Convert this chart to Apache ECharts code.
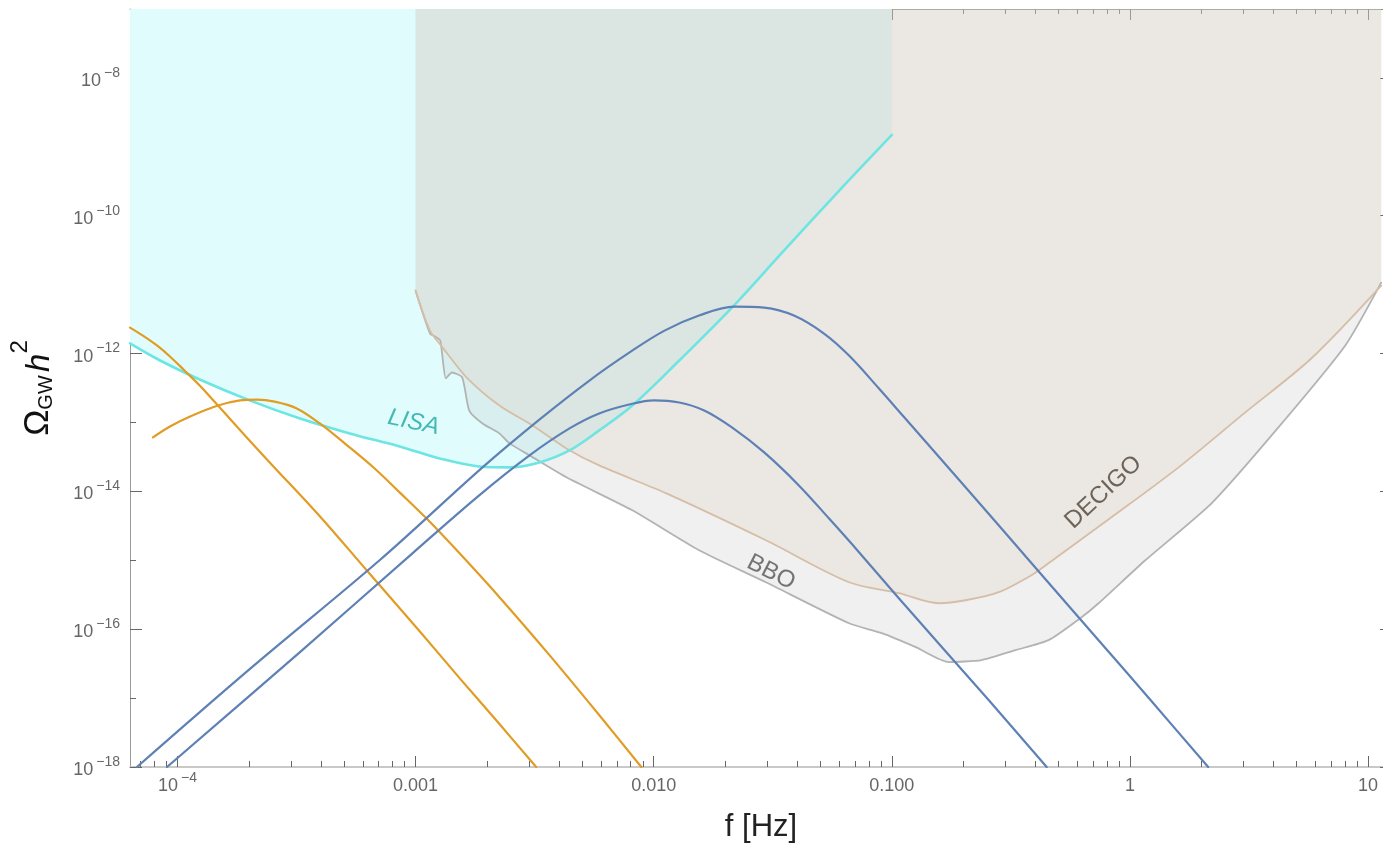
<!DOCTYPE html>
<html>
<head>
<meta charset="utf-8">
<title>Gravitational-wave spectra and detector sensitivities</title>
<script src="https://cdn.jsdelivr.net/npm/echarts@6/dist/echarts.min.js"></script>
<style>
  html, body { margin: 0; padding: 0; background: #ffffff; }
  #chart { width: 1383px; height: 849px; }
</style>
</head>
<body>
<div id="chart"></div>
<script>
// ---- Axis ranges and tick labels ----
const X_RANGE = [6.32e-5, 12.6];
const Y_RANGE = [1e-18, 1e-7];
const xMajorTicks = [1e-4, 1e-3, 1e-2, 1e-1, 1, 10];
const xTickLabels = ['{b|10}{s|−4}', '0.001', '0.010', '0.100', '1', '10'];
const yMajorTicks = [1e-18, 1e-16, 1e-14, 1e-12, 1e-10, 1e-8];
const yTickLabels = ['{b|10}{s|−18}', '{b|10}{s|−16}', '{b|10}{s|−14}', '{b|10}{s|−12}', '{b|10}{s|−10}', '{b|10}{s|−8}'];
const yMinorTicks = [1e-17, 1e-15, 1e-13, 1e-11, 1e-9, 1e-7];

// ---- LISA sensitivity curve ----
const lisaFreq  = [6.32e-5, 8.45e-5, 1.24e-4, 2.01e-4, 3.27e-4, 5.29e-4, 8.57e-4, 1.26e-3, 1.85e-3, 2.48e-3, 3.31e-3, 4.43e-3, 5.90e-3, 8.13e-3, 1.28e-2, 2.13e-2, 3.46e-2, 6.0e-2, 0.1];
const lisaOmega = [1.40e-12, 7.92e-13, 4.20e-13, 2.09e-13, 1.14e-13, 6.93e-14, 4.49e-14, 3.01e-14, 2.30e-14, 2.23e-14, 2.63e-14, 3.93e-14, 7.66e-14, 1.76e-13, 7.92e-13, 4.64e-12, 2.91e-11, 2.30e-10, 1.49e-9];

// ---- DECIGO sensitivity curve ----
const decigoFreq  = [1e-3, 1.15e-3, 1.30e-3, 1.64e-3, 2.25e-3, 3.10e-3, 4.30e-3, 5.90e-3, 1.13e-2, 2.96e-2, 6.61e-2, 0.107, 0.157, 0.204, 0.281, 0.386, 0.455, 0.836, 1.60, 3.05, 5.77, 11.35];
const decigoOmega = [8.18e-12, 2.15e-12, 1.22e-12, 4.49e-13, 1.76e-13, 9.05e-14, 4.20e-14, 2.38e-14, 9.35e-15, 1.95e-15, 4.80e-16, 3.33e-16, 2.38e-16, 2.63e-16, 3.44e-16, 6.07e-16, 9.06e-16, 4.20e-15, 2.23e-14, 1.4e-13, 8.47e-13, 9.68e-12];

// ---- BBO sensitivity curve ----
const bboFreq  = [1e-3, 1.15e-3, 1.21e-3, 1.27e-3, 1.34e-3, 1.42e-3, 1.57e-3, 1.68e-3, 1.91e-3, 2.25e-3, 2.48e-3, 3.01e-3, 4.30e-3, 8.13e-3, 1.55e-2, 2.96e-2, 6.61e-2, 9.08e-2, 0.126, 0.173, 0.238, 0.331, 0.455, 0.626, 0.738, 1.16, 2.20, 4.20, 8.02, 11.35];
const bboOmega = [8.18e-12, 1.95e-12, 1.76e-12, 1.54e-12, 4.35e-13, 5.31e-13, 4.49e-13, 1.49e-13, 9.68e-14, 6.93e-14, 4.97e-14, 3.33e-14, 1.60e-14, 5.31e-15, 1.40e-15, 4.80e-16, 1.22e-16, 8.75e-17, 5.48e-17, 3.33e-17, 3.56e-17, 4.97e-17, 6.93e-17, 1.49e-16, 2.38e-16, 1.0e-15, 6.70e-15, 8.47e-14, 1.31e-12, 1.07e-11];

// ---- Low-frequency spectra (orange) ----
const orangeAFreq  = [6.32e-5, 7.16e-5, 8.20e-5, 9.30e-5, 1.07e-4, 1.24e-4, 1.48e-4, 1.92e-4, 2.44e-4, 3.96e-4, 6.23e-4, 1.04e-3, 1.53e-3, 2.25e-3, 3.21e-3];
const orangeAOmega = [2.38e-12, 1.82e-12, 1.31e-12, 9.06e-13, 5.68e-13, 3.44e-13, 1.76e-13, 6.49e-14, 2.63e-14, 4.35e-15, 7.16e-16, 9.35e-17, 1.95e-17, 4.20e-18, 1e-18];
const orangeBFreq  = [7.89e-5, 9.30e-5, 1.13e-4, 1.48e-4, 1.83e-4, 2.15e-4, 2.56e-4, 3.17e-4, 3.96e-4, 5.04e-4, 6.73e-4, 8.57e-4, 1.11e-3, 1.53e-3, 2.25e-3, 3.65e-3, 5.90e-3, 8.87e-3];
const orangeBOmega = [6.07e-14, 8.75e-14, 1.22e-13, 1.76e-13, 2.09e-13, 2.15e-13, 2.01e-13, 1.60e-13, 9.68e-14, 4.97e-14, 2.15e-14, 9.68e-15, 4.06e-15, 1.26e-15, 2.91e-16, 4.20e-17, 5.68e-18, 1e-18];

// ---- Peaked spectra (blue) ----
const blueCFreq  = [6.76e-5, 2.01e-4, 7.06e-4, 1.91e-3, 3.31e-3, 5.37e-3, 7.89e-3, 1.11e-2, 1.55e-2, 2.18e-2, 2.91e-2, 3.88e-2, 5.19e-2, 6.61e-2, 8.83e-2, 0.112, 0.191, 0.413, 0.738, 1.23, 2.13];
const blueCOmega = [1e-18, 2.63e-17, 1e-15, 2.23e-14, 1.10e-13, 4.06e-13, 1.03e-12, 2.15e-12, 3.56e-12, 4.80e-12, 4.64e-12, 3.56e-12, 1.95e-12, 9.35e-13, 3.11e-13, 1.22e-13, 1.49e-14, 6.93e-16, 6.93e-17, 9.06e-18, 1e-18];
const blueDFreq  = [9.04e-5, 3.27e-4, 9.70e-4, 1.85e-3, 3.01e-3, 4.43e-3, 5.90e-3, 7.89e-3, 1.00e-2, 1.28e-2, 1.63e-2, 2.13e-2, 2.91e-2, 4.07e-2, 5.44e-2, 7.28e-2, 0.107, 0.255, 0.447];
const blueDOmega = [1e-18, 4.65e-17, 1.26e-15, 8.75e-15, 3.33e-14, 8.19e-14, 1.35e-13, 1.82e-13, 2.09e-13, 1.95e-13, 1.49e-13, 8.47e-14, 3.67e-14, 1.22e-14, 4.06e-15, 1.31e-15, 2.81e-16, 9.35e-18, 1e-18];

// ---- Curve labels: text, anchor frequency, anchor value ----
const labelText  = ['LISA', 'BBO', 'DECIGO'];
const labelFreq  = [9.8e-4, 3.11e-2, 0.774];
const labelOmega = [1e-13, 6.7e-16, 9.7e-15];

const zip = (xs, ys) => xs.map((x, i) => [x, ys[i]]);

// Minor x ticks at 2..9 x 10^n inside the plotted range
const xMinorTicks = [];
for (let n = -5; n <= 1; n++) {
  for (let k = 2; k <= 9; k++) {
    const v = k * Math.pow(10, n);
    if (v > X_RANGE[0] && v < X_RANGE[1]) xMinorTicks.push(v);
  }
}

const sameTick = (a, b) => Math.abs(Math.log10(a) - Math.log10(b)) < 1e-6;
const tickFont = 'Liberation Sans, Arial, sans-serif';
const labelRich = {
  b: { fontSize: 18, color: '#666666', fontFamily: tickFont, lineHeight: 24, verticalAlign: 'bottom' },
  s: { fontSize: 14, color: '#666666', fontFamily: tickFont, lineHeight: 14, verticalAlign: 'top', padding: [0, 0, 0, 3] }
};

function frameAxis(kind, position, ticks, len, lineStyle, labels) {
  const range = kind === 'x' ? X_RANGE : Y_RANGE;
  const axis = {
    type: 'log',
    logBase: 10,
    gridIndex: 0,
    position: position,
    min: range[0],
    max: range[1],
    axisLine: { show: !!lineStyle, lineStyle: lineStyle || {} },
    axisTick: { show: true, inside: true, length: len, customValues: ticks,
                lineStyle: { color: '#666', width: 1 } },
    axisLabel: { show: false },
    splitLine: { show: false },
    minorTick: { show: false },
    minorSplitLine: { show: false }
  };
  if (labels) {
    const tickList = labels.ticks;
    axis.axisLabel = {
      show: true,
      customValues: tickList,
      margin: kind === 'x' ? 4 : 10,
      rich: labelRich,
      formatter: (v) => {
        const i = tickList.findIndex(t => sameTick(t, v));
        const txt = i >= 0 ? labels.text[i] : '';
        return txt.indexOf('{') === 0 ? txt : '{b|' + txt + '}';
      }
    };
  }
  return axis;
}

const xAxes = [
  frameAxis('x', 'bottom', xMajorTicks, 11, { color: '#c9c9c9', width: 2 }, { ticks: xMajorTicks, text: xTickLabels }),
  frameAxis('x', 'bottom', xMinorTicks, 6, null, null),
  frameAxis('x', 'top', xMajorTicks, 11, { color: '#8a8a8a', width: 1 }, null),
  frameAxis('x', 'top', xMinorTicks, 5, null, null)
];
xAxes[0].name = 'f [Hz]';
xAxes[0].nameLocation = 'middle';
xAxes[0].nameGap = 45;
xAxes[0].nameTextStyle = { fontSize: 31, color: '#222', fontFamily: tickFont };

const yAxes = [
  frameAxis('y', 'left', yMajorTicks, 12, { color: '#9a9a9a', width: 1 }, { ticks: yMajorTicks, text: yTickLabels }),
  frameAxis('y', 'left', yMinorTicks, 6, null, null),
  frameAxis('y', 'right', yMajorTicks, 12, { color: '#9a9a9a', width: 1 }, null),
  frameAxis('y', 'right', yMinorTicks, 6, null, null)
];
yAxes[0].name = '{o|Ω}{g|GW} {h|h}{p|2}';
yAxes[0].nameLocation = 'middle';
yAxes[0].nameRotate = 90;
yAxes[0].nameGap = 74;
yAxes[0].nameTextStyle = {
  fontFamily: tickFont,
  color: '#111',
  rich: {
    o: { fontSize: 35, lineHeight: 48, verticalAlign: 'bottom', color: '#111', fontFamily: tickFont },
    g: { fontSize: 20, lineHeight: 38, verticalAlign: 'bottom', color: '#111', fontFamily: tickFont },
    h: { fontSize: 33, lineHeight: 48, verticalAlign: 'bottom', fontStyle: 'italic', color: '#111', fontFamily: tickFont },
    p: { fontSize: 24, lineHeight: 20, verticalAlign: 'top', color: '#111', fontFamily: tickFont }
  }
};

// Shaded regions above each sensitivity curve
function regionSeries(name, freq, omega, fill, smooth, z) {
  return {
    name: name, type: 'line', xAxisIndex: 0, yAxisIndex: 0,
    data: zip(freq, omega), showSymbol: false, silent: true, smooth: smooth,
    lineStyle: { width: 0, opacity: 0 },
    areaStyle: { origin: 'end', color: fill, opacity: 1 },
    z: z
  };
}

function curveSeries(name, freq, omega, color, width, smooth, z) {
  return {
    name: name, type: 'line', xAxisIndex: 0, yAxisIndex: 0,
    data: zip(freq, omega), showSymbol: false, silent: true, smooth: smooth,
    lineStyle: { color: color, width: width, cap: 'round', join: 'round' },
    z: z
  };
}

const labelStyles = [
  { rotate: -12, color: '#1ba7a4', fontStyle: 'italic' },
  { rotate: -27, color: '#555555', fontStyle: 'normal' },
  { rotate: 43, color: '#4f4234', fontStyle: 'normal' }
];

const series = [
  regionSeries('LISA region', lisaFreq, lisaOmega, '#e0fcfc', 0.35, 1),
  regionSeries('BBO region', bboFreq, bboOmega, 'rgba(200,200,200,0.27)', 0.2, 2),
  regionSeries('DECIGO region', decigoFreq, decigoOmega, 'rgba(223,209,195,0.29)', 0.3, 3),
  curveSeries('BBO', bboFreq, bboOmega, '#b3b3b3', 1.8, 0.2, 4),
  curveSeries('DECIGO', decigoFreq, decigoOmega, '#d6bea6', 1.8, 0.3, 4),
  curveSeries('LISA', lisaFreq, lisaOmega, '#6ce5e3', 2.6, 0.35, 5),
  curveSeries('spectrum A', orangeAFreq, orangeAOmega, '#e19c24', 2.2, 0.35, 6),
  curveSeries('spectrum B', orangeBFreq, orangeBOmega, '#e19c24', 2.2, 0.35, 6),
  curveSeries('spectrum C', blueCFreq, blueCOmega, '#5e81b5', 2.2, 0.35, 6),
  curveSeries('spectrum D', blueDFreq, blueDOmega, '#5e81b5', 2.2, 0.35, 6),
  {
    name: 'curve labels', type: 'scatter', xAxisIndex: 0, yAxisIndex: 0,
    symbolSize: 1, silent: true, z: 7,
    itemStyle: { color: 'rgba(0,0,0,0)' },
    data: labelText.map((t, i) => ({
      name: t,
      value: [labelFreq[i], labelOmega[i]],
      label: {
        show: true, position: 'inside', formatter: t,
        rotate: labelStyles[i].rotate, color: labelStyles[i].color,
        fontStyle: labelStyles[i].fontStyle,
        fontSize: 24, fontFamily: tickFont
      }
    }))
  }
];

const chart = echarts.init(document.getElementById('chart'), null, { renderer: 'canvas' });
chart.setOption({
  animation: false,
  backgroundColor: '#ffffff',
  grid: { left: 130, right: -9, top: 9, bottom: 82, outerBoundsMode: 'none', containLabel: false },
  xAxis: xAxes,
  yAxis: yAxes,
  series: series
});
</script>
</body>
</html>
